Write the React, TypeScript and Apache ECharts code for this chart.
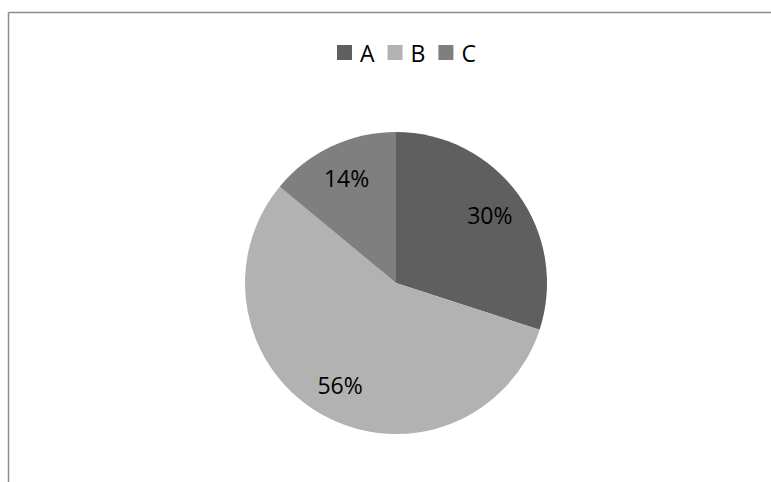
import React, { useEffect, useRef } from "react";
import * as echarts from "echarts";

const categories = ["A", "B", "C"];
const values = [30, 56, 14];
const colors = ["#5f5f5f", "#b2b2b2", "#7f7f7f"];

export default function App() {
  const ref = useRef<HTMLDivElement>(null);
  useEffect(() => {
    if (!ref.current) return;
    const chart = echarts.init(ref.current, null, { renderer: "svg" });
    const data = categories.map((name, i) => ({ name, value: values[i], itemStyle: { color: colors[i] } }));
    const font = "'Open Sans', 'Noto Sans', sans-serif";
    chart.setOption({
      animation: false,
      backgroundColor: "#ffffff",
      legend: {
        data: categories,
        top: 36,
        left: 332,
        icon: "rect",
        itemWidth: 15,
        itemHeight: 15,
        itemGap: 13,
        textStyle: { fontFamily: font, fontSize: 23, color: "#000", padding: [0, 0, 0, 3] },
      },
      graphic: [
        { type: "line", shape: { x1: 8.5, y1: 12.5, x2: 771, y2: 12.5 }, style: { stroke: "#8c8c8c", lineWidth: 1.5 }, silent: true },
        { type: "line", shape: { x1: 8.5, y1: 12.5, x2: 8.5, y2: 482 }, style: { stroke: "#8c8c8c", lineWidth: 1.5 }, silent: true },
      ],
      series: [
        {
          type: "pie",
          center: [396, 283],
          radius: [0, 151],
          startAngle: 90,
          clockwise: true,
          data,
          label: { show: false },
          labelLine: { show: false },
          itemStyle: { borderWidth: 0 },
          emphasis: { disabled: true },
          silent: true,
        },
        {
          type: "pie",
          center: [396, 283],
          radius: [75, 151],
          startAngle: 90,
          clockwise: true,
          data: categories.map((name, i) => ({ name, value: values[i] })),
          itemStyle: { color: "rgba(0,0,0,0)", borderWidth: 0 },
          label: {
            show: true,
            position: "inside",
            formatter: (p: any) => `${Math.round(p.percent)}%`,
            fontFamily: font,
            fontSize: 23,
            color: "#000",
          },
          labelLine: { show: false },
          emphasis: { disabled: true },
          silent: true,
        },
      ],
    });
    return () => chart.dispose();
  }, []);
  return <div ref={ref} style={{ position: "absolute", left: 0, top: 0, width: 771, height: 482 }} />;
}
